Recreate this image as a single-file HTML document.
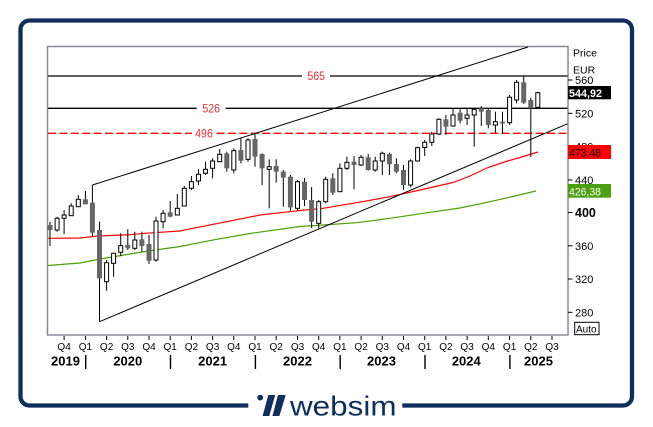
<!DOCTYPE html>
<html>
<head>
<meta charset="utf-8">
<style>
  html,body{margin:0;padding:0;background:#fff;}
  svg{display:block;}
  text{font-family:"Liberation Sans",Arial,sans-serif;}
</style>
</head>
<body>
<svg width="653" height="427" viewBox="0 0 653 427" xmlns="http://www.w3.org/2000/svg">
  <rect x="0" y="0" width="653" height="427" fill="#fff"/>
  <path d="M248.3 405.5 H29.5 A9 9 0 0 1 20.5 396.5 V29.5 A9 9 0 0 1 29.5 20.5 H623 A9 9 0 0 1 632 29.5 V396.5 A9 9 0 0 1 623 405.5 H402.3" fill="none" stroke="#0e2f5e" stroke-width="4.3"/>
  <g fill="#0e2f5e">
    <circle cx="260.2" cy="397.6" r="2.9"/>
    <polygon points="268.3,395 275.2,395 269.3,416 262.6,416"/>
    <polygon points="278,395 285.7,395 279.4,416 272.4,416"/>
    <text x="290" y="415.3" font-size="28" textLength="106.5" lengthAdjust="spacingAndGlyphs">websim</text>
  </g>
  <rect x="47.5" y="46.5" width="520.5" height="288.5" fill="none" stroke="#8a8a98" stroke-width="1.5"/>
  <polyline fill="none" stroke="#4ca000" stroke-width="1.2" points="48,265.5 80,263 100,259 112,257 145,251.5 180,246.5 216.7,239.3 250,233.5 300,226.5 323,225 356.7,222.7 390,218.3 430,212.3 460,208 490,201.7 515,196 536,191"/>
  <polyline fill="none" stroke="#ff0000" stroke-width="1.2" points="48,238.3 80,238 98,236 130,234.7 145,233.3 160,232.3 180,231 193,228.3 226.7,221.7 260,215 290,211.7 300,210.5 323,208.3 356.7,202.7 390,196.7 420,190 453,182.5 470,176 488,167.5 506,161.5 520,157.5 538,152"/>
  <g stroke="#000" stroke-width="1.3">
    <line x1="48" y1="76" x2="302" y2="76"/>
    <line x1="330" y1="76" x2="567.5" y2="76"/>
    <line x1="48" y1="108.3" x2="196.7" y2="108.3"/>
    <line x1="225.7" y1="108.3" x2="567.5" y2="108.3"/>
  </g>
  <g stroke="#ff0000" stroke-width="1.3" stroke-dasharray="8 3.4">
    <line x1="48" y1="133.3" x2="192" y2="133.3"/>
    <line x1="216.5" y1="133.3" x2="567.5" y2="133.3"/>
  </g>
  <g fill="#f03232" font-size="11.5" text-anchor="middle">
    <text x="316.2" y="80.2" textLength="17.7" lengthAdjust="spacingAndGlyphs">565</text>
    <text x="211.2" y="112.5" textLength="17.7" lengthAdjust="spacingAndGlyphs">526</text>
    <text x="204" y="137.5" textLength="17.7" lengthAdjust="spacingAndGlyphs">496</text>
  </g>
  <g stroke="#000" stroke-width="1">
    <line x1="92.4" y1="185" x2="528" y2="47"/>
    <line x1="99.5" y1="321.7" x2="567.5" y2="123.8"/>
  </g>
  <g stroke="#000" stroke-width="1">
    <line x1="50.0" y1="221.7" x2="50.0" y2="246"/>
    <line x1="57.1" y1="216.7" x2="57.1" y2="231.7"/>
    <line x1="64.1" y1="210" x2="64.1" y2="234"/>
    <line x1="71.2" y1="203.3" x2="71.2" y2="215.7"/>
    <line x1="78.3" y1="195" x2="78.3" y2="206.7"/>
    <line x1="85.4" y1="191" x2="85.4" y2="204.3"/>
    <line x1="92.4" y1="185" x2="92.4" y2="236.7"/>
    <line x1="99.5" y1="221.7" x2="99.5" y2="321.7"/>
    <line x1="106.6" y1="260" x2="106.6" y2="290.7"/>
    <line x1="113.6" y1="252.7" x2="113.6" y2="276.7"/>
    <line x1="120.7" y1="233.3" x2="120.7" y2="256"/>
    <line x1="127.8" y1="229.3" x2="127.8" y2="250"/>
    <line x1="134.8" y1="231.7" x2="134.8" y2="250"/>
    <line x1="141.9" y1="231.7" x2="141.9" y2="251.7"/>
    <line x1="149.0" y1="235" x2="149.0" y2="264"/>
    <line x1="156.0" y1="216.7" x2="156.0" y2="261.7"/>
    <line x1="163.1" y1="210" x2="163.1" y2="228.3"/>
    <line x1="170.2" y1="201" x2="170.2" y2="217.3"/>
    <line x1="177.3" y1="194" x2="177.3" y2="215"/>
    <line x1="184.3" y1="186" x2="184.3" y2="206"/>
    <line x1="191.4" y1="176" x2="191.4" y2="190"/>
    <line x1="198.5" y1="169.3" x2="198.5" y2="185"/>
    <line x1="205.5" y1="161.7" x2="205.5" y2="175"/>
    <line x1="212.6" y1="158.3" x2="212.6" y2="178.3"/>
    <line x1="219.7" y1="149" x2="219.7" y2="161.7"/>
    <line x1="226.8" y1="151.7" x2="226.8" y2="171.7"/>
    <line x1="233.8" y1="148.3" x2="233.8" y2="173.3"/>
    <line x1="240.9" y1="138.3" x2="240.9" y2="163.3"/>
    <line x1="248.0" y1="138.3" x2="248.0" y2="161.7"/>
    <line x1="255.0" y1="133.3" x2="255.0" y2="166.7"/>
    <line x1="262.1" y1="153.3" x2="262.1" y2="185"/>
    <line x1="269.2" y1="159.3" x2="269.2" y2="208.3"/>
    <line x1="276.2" y1="159.3" x2="276.2" y2="182.7"/>
    <line x1="283.3" y1="170" x2="283.3" y2="206.7"/>
    <line x1="290.4" y1="175" x2="290.4" y2="210.7"/>
    <line x1="297.5" y1="180" x2="297.5" y2="211"/>
    <line x1="304.5" y1="178" x2="304.5" y2="206"/>
    <line x1="311.6" y1="187" x2="311.6" y2="228"/>
    <line x1="318.7" y1="200" x2="318.7" y2="228.3"/>
    <line x1="325.7" y1="176.7" x2="325.7" y2="203.3"/>
    <line x1="332.8" y1="173.3" x2="332.8" y2="195"/>
    <line x1="339.9" y1="163.3" x2="339.9" y2="191.7"/>
    <line x1="346.9" y1="156.7" x2="346.9" y2="170"/>
    <line x1="354.0" y1="156" x2="354.0" y2="189.3"/>
    <line x1="361.1" y1="155" x2="361.1" y2="166"/>
    <line x1="368.2" y1="154" x2="368.2" y2="170.7"/>
    <line x1="375.2" y1="156.7" x2="375.2" y2="171.7"/>
    <line x1="382.3" y1="151.7" x2="382.3" y2="175"/>
    <line x1="389.4" y1="152.7" x2="389.4" y2="175"/>
    <line x1="396.4" y1="158.3" x2="396.4" y2="173.3"/>
    <line x1="403.5" y1="165" x2="403.5" y2="190"/>
    <line x1="410.6" y1="159.3" x2="410.6" y2="187.3"/>
    <line x1="417.6" y1="146.7" x2="417.6" y2="161.7"/>
    <line x1="424.7" y1="140" x2="424.7" y2="156"/>
    <line x1="431.8" y1="131.7" x2="431.8" y2="146"/>
    <line x1="438.9" y1="118.3" x2="438.9" y2="135"/>
    <line x1="445.9" y1="115" x2="445.9" y2="135"/>
    <line x1="453.0" y1="108.3" x2="453.0" y2="126.7"/>
    <line x1="460.1" y1="108.3" x2="460.1" y2="123.3"/>
    <line x1="467.1" y1="108.3" x2="467.1" y2="125"/>
    <line x1="474.2" y1="108.3" x2="474.2" y2="146.7"/>
    <line x1="481.3" y1="106" x2="481.3" y2="126"/>
    <line x1="488.3" y1="108.3" x2="488.3" y2="128.3"/>
    <line x1="495.4" y1="111.7" x2="495.4" y2="132.7"/>
    <line x1="502.5" y1="111.7" x2="502.5" y2="133.3"/>
    <line x1="509.6" y1="95" x2="509.6" y2="125"/>
    <line x1="516.6" y1="80" x2="516.6" y2="103.3"/>
    <line x1="523.7" y1="76" x2="523.7" y2="104"/>
    <line x1="530.8" y1="97.7" x2="530.8" y2="157"/>
    <line x1="537.8" y1="91.7" x2="537.8" y2="107.3"/>
  </g>
  <g fill="#666">
    <rect x="47.5" y="225" width="5" height="5"/>
    <rect x="82.9" y="199.3" width="5" height="5"/>
    <rect x="89.9" y="202.7" width="5" height="30"/>
    <rect x="97.0" y="230" width="5" height="48.3"/>
    <rect x="125.3" y="245" width="5" height="3.3"/>
    <rect x="139.4" y="239.3" width="5" height="6.7"/>
    <rect x="146.5" y="244" width="5" height="16.7"/>
    <rect x="167.7" y="212.3" width="5" height="4.4"/>
    <rect x="224.3" y="153.3" width="5" height="15"/>
    <rect x="238.4" y="150" width="5" height="10.7"/>
    <rect x="252.5" y="139" width="5" height="17.7"/>
    <rect x="259.6" y="154" width="5" height="14.3"/>
    <rect x="273.7" y="166" width="5" height="5.7"/>
    <rect x="280.8" y="171.7" width="5" height="6"/>
    <rect x="287.9" y="176.7" width="5" height="30.6"/>
    <rect x="302.0" y="181.7" width="5" height="18.3"/>
    <rect x="309.1" y="200" width="5" height="21.7"/>
    <rect x="330.3" y="178.3" width="5" height="14.4"/>
    <rect x="351.5" y="161.7" width="5" height="3.3"/>
    <rect x="365.7" y="157.3" width="5" height="12.7"/>
    <rect x="386.9" y="154" width="5" height="10.3"/>
    <rect x="393.9" y="164" width="5" height="7.7"/>
    <rect x="401.0" y="170" width="5" height="15"/>
    <rect x="443.4" y="119.3" width="5" height="7.4"/>
    <rect x="457.6" y="112.7" width="5" height="8"/>
    <rect x="478.8" y="108.3" width="5" height="3.4"/>
    <rect x="485.8" y="110" width="5" height="15"/>
    <rect x="500.0" y="121.7" width="5" height="1.8"/>
    <rect x="521.2" y="82.3" width="5" height="20.4"/>
    <rect x="528.3" y="100" width="5" height="8.3"/>
  </g>
  <g fill="#fff" stroke="#000" stroke-width="1">
    <rect x="55.1" y="218.3" width="4" height="11.7"/>
    <rect x="62.1" y="215" width="4" height="3.3"/>
    <rect x="69.2" y="206" width="4" height="9.7"/>
    <rect x="76.3" y="199.3" width="4" height="7.4"/>
    <rect x="104.6" y="262.7" width="4" height="19"/>
    <rect x="111.6" y="253.3" width="4" height="10"/>
    <rect x="118.7" y="245.7" width="4" height="6.6"/>
    <rect x="132.8" y="240" width="4" height="8.3"/>
    <rect x="154.0" y="221" width="4" height="39"/>
    <rect x="161.1" y="213.3" width="4" height="8.4"/>
    <rect x="175.3" y="208.3" width="4" height="6.7"/>
    <rect x="182.3" y="188.3" width="4" height="17.7"/>
    <rect x="189.4" y="181.7" width="4" height="6.6"/>
    <rect x="196.5" y="174.3" width="4" height="6.7"/>
    <rect x="203.5" y="169.3" width="4" height="4"/>
    <rect x="210.6" y="161" width="4" height="7.3"/>
    <rect x="217.7" y="154.3" width="4" height="7.4"/>
    <rect x="231.8" y="150.7" width="4" height="19.3"/>
    <rect x="246.0" y="140" width="4" height="19.3"/>
    <rect x="267.2" y="166.7" width="4" height="2.6"/>
    <rect x="295.5" y="181.7" width="4" height="26.6"/>
    <rect x="316.7" y="201.7" width="4" height="21.6"/>
    <rect x="323.7" y="179.3" width="4" height="22.4"/>
    <rect x="337.9" y="168.3" width="4" height="23.4"/>
    <rect x="344.9" y="162.3" width="4" height="6"/>
    <rect x="359.1" y="157.3" width="4" height="7.7"/>
    <rect x="373.2" y="161" width="4" height="9"/>
    <rect x="380.3" y="153.3" width="4" height="7.7"/>
    <rect x="408.6" y="161" width="4" height="24"/>
    <rect x="415.6" y="147.7" width="4" height="13.3"/>
    <rect x="422.7" y="142.3" width="4" height="5.2"/>
    <rect x="429.8" y="134" width="4" height="8.3"/>
    <rect x="436.9" y="119.3" width="4" height="14.7"/>
    <rect x="451.0" y="115" width="4" height="11"/>
    <rect x="465.1" y="115" width="4" height="3.3"/>
    <rect x="472.2" y="109.3" width="4" height="5.7"/>
    <rect x="493.4" y="121.7" width="4" height="3.3"/>
    <rect x="507.6" y="97.3" width="4" height="25.4"/>
    <rect x="514.6" y="82.3" width="4" height="17.7"/>
    <rect x="535.8" y="92.7" width="4" height="14.6"/>
  </g>
  <g fill="#000">
    <text x="573" y="56.5" font-size="10.5">Price</text>
    <text x="573" y="73.5" font-size="10.5">EUR</text>
  </g>
  <g stroke="#000" stroke-width="1">
    <line x1="568" y1="80" x2="572.5" y2="80"/>
    <line x1="568" y1="113.3" x2="572.5" y2="113.3"/>
    <line x1="568" y1="146.6" x2="572.5" y2="146.6"/>
    <line x1="568" y1="180" x2="572.5" y2="180"/>
    <line x1="568" y1="212.5" x2="572.5" y2="212.5"/>
    <line x1="568" y1="245.8" x2="572.5" y2="245.8"/>
    <line x1="568" y1="279" x2="572.5" y2="279"/>
    <line x1="568" y1="312.3" x2="572.5" y2="312.3"/>
  </g>
  <g fill="#000" font-size="11">
    <text x="575" y="84">560</text>
    <text x="575" y="117.3">520</text>
    <text x="575" y="150.6">480</text>
    <text x="575" y="184">440</text>
    <text x="575" y="217" font-size="12.5" font-weight="bold">400</text>
    <text x="575" y="249.8">360</text>
    <text x="575" y="283">320</text>
    <text x="575" y="316.3">280</text>
  </g>
  <rect x="568" y="86" width="43" height="13.3" fill="#000"/>
  <text x="569" y="97" font-size="11" font-weight="bold" fill="#fff" textLength="33" lengthAdjust="spacingAndGlyphs">544,92</text>
  <rect x="568" y="145" width="43" height="14" fill="#ff0000"/>
  <text x="569" y="156.3" font-size="11" fill="#000" textLength="32" lengthAdjust="spacingAndGlyphs">473,48</text>
  <rect x="568" y="184" width="43" height="13.7" fill="#4ca010"/>
  <text x="569" y="195.3" font-size="11" fill="#fff" textLength="32" lengthAdjust="spacingAndGlyphs">426,38</text>
  <rect x="574.7" y="322.3" width="24.3" height="12.4" fill="#fff" stroke="#000" stroke-width="1"/>
  <text x="576" y="332.3" font-size="10" fill="#000">Auto</text>
  <g stroke="#000" stroke-width="1">
    <line x1="64.1" y1="336" x2="64.1" y2="340"/>
    <line x1="85.4" y1="336" x2="85.4" y2="340"/>
    <line x1="106.6" y1="336" x2="106.6" y2="340"/>
    <line x1="127.8" y1="336" x2="127.8" y2="340"/>
    <line x1="149.0" y1="336" x2="149.0" y2="340"/>
    <line x1="170.2" y1="336" x2="170.2" y2="340"/>
    <line x1="191.4" y1="336" x2="191.4" y2="340"/>
    <line x1="212.6" y1="336" x2="212.6" y2="340"/>
    <line x1="233.8" y1="336" x2="233.8" y2="340"/>
    <line x1="255.0" y1="336" x2="255.0" y2="340"/>
    <line x1="276.2" y1="336" x2="276.2" y2="340"/>
    <line x1="297.5" y1="336" x2="297.5" y2="340"/>
    <line x1="318.7" y1="336" x2="318.7" y2="340"/>
    <line x1="339.9" y1="336" x2="339.9" y2="340"/>
    <line x1="361.1" y1="336" x2="361.1" y2="340"/>
    <line x1="382.3" y1="336" x2="382.3" y2="340"/>
    <line x1="403.5" y1="336" x2="403.5" y2="340"/>
    <line x1="424.7" y1="336" x2="424.7" y2="340"/>
    <line x1="445.9" y1="336" x2="445.9" y2="340"/>
    <line x1="467.1" y1="336" x2="467.1" y2="340"/>
    <line x1="488.3" y1="336" x2="488.3" y2="340"/>
    <line x1="509.6" y1="336" x2="509.6" y2="340"/>
    <line x1="530.8" y1="336" x2="530.8" y2="340"/>
    <line x1="552.0" y1="336" x2="552.0" y2="340"/>
  </g>
  <g fill="#000" font-size="10" text-anchor="middle">
    <text x="64.1" y="350">Q4</text>
    <text x="85.4" y="350">Q1</text>
    <text x="106.6" y="350">Q2</text>
    <text x="127.8" y="350">Q3</text>
    <text x="149.0" y="350">Q4</text>
    <text x="170.2" y="350">Q1</text>
    <text x="191.4" y="350">Q2</text>
    <text x="212.6" y="350">Q3</text>
    <text x="233.8" y="350">Q4</text>
    <text x="255.0" y="350">Q1</text>
    <text x="276.2" y="350">Q2</text>
    <text x="297.5" y="350">Q3</text>
    <text x="318.7" y="350">Q4</text>
    <text x="339.9" y="350">Q1</text>
    <text x="361.1" y="350">Q2</text>
    <text x="382.3" y="350">Q3</text>
    <text x="403.5" y="350">Q4</text>
    <text x="424.7" y="350">Q1</text>
    <text x="445.9" y="350">Q2</text>
    <text x="467.1" y="350">Q3</text>
    <text x="488.3" y="350">Q4</text>
    <text x="509.6" y="350">Q1</text>
    <text x="530.8" y="350">Q2</text>
    <text x="552.0" y="350">Q3</text>
  </g>
  <g stroke="#000" stroke-width="1.4">
    <line x1="85.7" y1="355" x2="85.7" y2="369"/>
    <line x1="170.5" y1="355" x2="170.5" y2="369"/>
    <line x1="255.4" y1="355" x2="255.4" y2="369"/>
    <line x1="340.2" y1="355" x2="340.2" y2="369"/>
    <line x1="425" y1="355" x2="425" y2="369"/>
    <line x1="509.9" y1="355" x2="509.9" y2="369"/>
  </g>
  <g fill="#000" font-size="13" font-weight="bold" text-anchor="middle">
    <text x="65.5" y="365.5">2019</text>
    <text x="127.8" y="365.5">2020</text>
    <text x="212.6" y="365.5">2021</text>
    <text x="297.5" y="365.5">2022</text>
    <text x="381.5" y="365.5">2023</text>
    <text x="466.3" y="365.5">2024</text>
    <text x="538.5" y="365.5">2025</text>
  </g>
</svg>
</body>
</html>
